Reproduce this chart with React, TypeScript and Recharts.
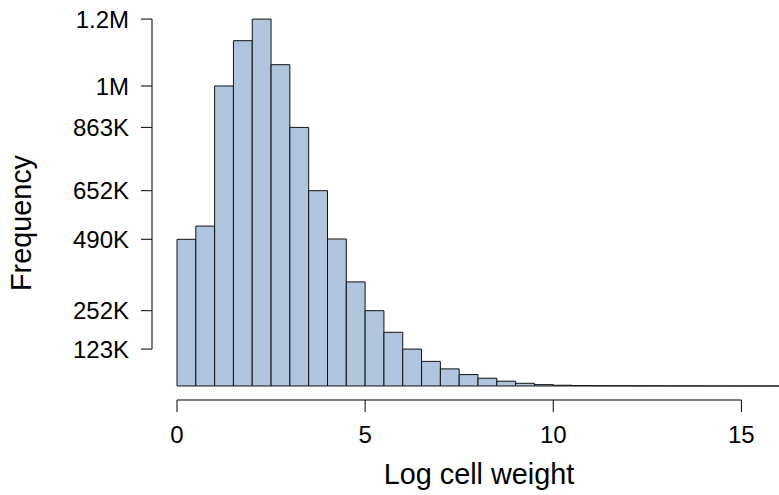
import React from "react"
import { BarChart, Bar, XAxis, YAxis, ReferenceLine, Label } from "recharts"

// histogram bins (left edge of each 0.5 wide bin)
const binStarts = [
  0, 0.5, 1, 1.5, 2, 2.5, 3, 3.5, 4, 4.5, 5, 5.5, 6, 6.5, 7, 7.5,
  8, 8.5, 9, 9.5, 10, 10.5, 11, 11.5, 12, 12.5, 13, 13.5, 14, 14.5, 15, 15.5,
]
const counts = [
  489000, 533000, 1000000, 1151000, 1223000, 1071000, 862000, 651000,
  490000, 347000, 251000, 179000, 123000, 82000, 57000, 38000,
  26000, 16000, 9000, 4500, 2500, 1500, 1000, 800,
  600, 400, 300, 250, 100, 60, 30, 20,
]

const xTicks = [0, 5, 10, 15]
const yTicks = [123000, 251000, 489000, 651000, 862000, 1000000, 1223000]
const yTickLabels = ["123K", "252K", "490K", "652K", "863K", "1M", "1.2M"]

const data = binStarts.map((start, i) => ({
  bin: `${start}-${start + 0.5}`,
  start,
  count: counts[i],
}))

const FONT = "'Liberation Sans', Arial, Helvetica, sans-serif"
const X_MIN = -0.6645
const Y_MIN = -46700
const Y_MAX = 1253300

const YTitle = ({ viewBox }: any) => {
  const cx = 31
  const cy = viewBox.y + viewBox.height / 2 + 18
  return (
    <text
      x={cx}
      y={cy}
      transform={`rotate(-90 ${cx} ${cy})`}
      textAnchor="middle"
      fontSize={28.8}
      fontFamily={FONT}
      fill="#000"
    >
      Frequency
    </text>
  )
}

export default function App() {
  return (
    <div style={{ position: "absolute", left: 0, top: 0, width: 779, height: 495, overflow: "hidden", background: "#fff" }}>
      <BarChart
        width={779}
        height={495}
        data={data}
        margin={{ top: 10, right: 0, bottom: 0, left: 0 }}
        barCategoryGap={0}
        barGap={0}
      >
        <XAxis xAxisId="bins" dataKey="bin" hide height={0} padding={{ left: 25, right: 0 }} />
        <XAxis
          xAxisId="num"
          type="number"
          dataKey="start"
          domain={[X_MIN, 16]}
          allowDataOverflow
          ticks={xTicks}
          interval={0}
          axisLine={false}
          tickSize={12}
          tickMargin={14}
          height={95}
          tickLine={{ stroke: "#000" }}
          tick={{ fill: "#000", fontSize: 24, fontFamily: FONT }}
        >
          <Label
            value="Log cell weight"
            position="insideBottom"
            offset={11}
            dx={13.5}
            fontSize={28.8}
            fontFamily={FONT}
            fill="#000"
          />
        </XAxis>
        <YAxis
          domain={[Y_MIN, Y_MAX]}
          allowDataOverflow
          ticks={yTicks}
          interval={0}
          width={152}
          tickSize={11}
          tickMargin={12}
          axisLine={false}
          tickLine={{ stroke: "#000" }}
          tick={{ fill: "#000", fontSize: 24, fontFamily: FONT }}
          tickFormatter={(v: number) => yTickLabels[yTicks.indexOf(v)] ?? ""}
          label={<YTitle />}
        />
        <Bar
          xAxisId="bins"
          dataKey="count"
          barSize={18.8}
          fill="#B0C4DE"
          stroke="#111"
          strokeWidth={1}
          isAnimationActive={false}
        />
        <ReferenceLine
          xAxisId="num"
          segment={[{ x: 0, y: Y_MIN }, { x: 15, y: Y_MIN }]}
          stroke="#000"
          ifOverflow="visible"
        />
        <ReferenceLine
          xAxisId="num"
          segment={[{ x: X_MIN, y: yTicks[0] }, { x: X_MIN, y: yTicks[yTicks.length - 1] }]}
          stroke="#000"
          ifOverflow="visible"
        />
      </BarChart>
    </div>
  )
}
